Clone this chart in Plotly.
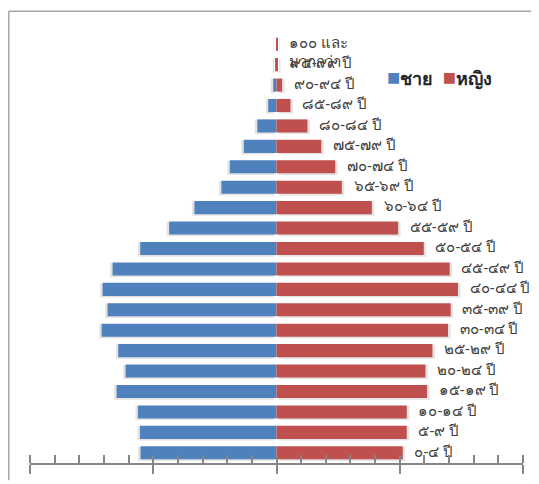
import plotly.graph_objects as go

age_groups = ["๐-๔ ปี", "๕-๙ ปี", "๑๐-๑๔ ปี", "๑๕-๑๙ ปี", "๒๐-๒๔ ปี", "๒๕-๒๙ ปี",
              "๓๐-๓๔ ปี", "๓๕-๓๙ ปี", "๔๐-๔๔ ปี", "๔๕-๔๙ ปี", "๕๐-๕๔ ปี", "๕๕-๕๙ ปี",
              "๖๐-๖๔ ปี", "๖๕-๖๙ ปี", "๗๐-๗๔ ปี", "๗๕-๗๙ ปี", "๘๐-๘๔ ปี", "๘๕-๘๙ ปี",
              "๙๐-๙๔ ปี", "๙๕-๙๙ ปี", "๑๐๐ และมากกว่า"]
# the same labels as drawn next to the bars (the last one wraps onto two lines)
age_labels = age_groups[:-1] + ["\u00a0<br>๑๐๐ และ<br>มากกว่า"]

# population in thousands
male = [2207, 2216, 2249, 2595, 2449, 2568, 2838, 2741, 2822, 2660, 2211, 1742,
        1332, 894, 758, 531, 311, 134, 53, 21, 8]
female = [2049, 2114, 2114, 2443, 2417, 2530, 2783, 2827, 2945, 2811, 2390, 1973,
          1547, 1061, 953, 726, 502, 227, 91, 24, 11]

series_names = ["ชาย", "หญิง"]
colors = ["#4F81BD", "#C0504D"]

FONT = "Tahoma, Leelawadee UI, Noto Sans, sans-serif"
SHADOW = "rgba(0,0,0,0.11)"
shift = 40  # small shadow displacement in data units

fig = go.Figure()
# soft drop shadows behind the bars
fig.add_trace(go.Bar(
    y=age_groups, x=[-v for v in male], base=-shift, orientation="h",
    width=0.7, offset=-0.4, marker=dict(color=SHADOW, line=dict(width=0)),
    showlegend=False, hoverinfo="skip"))
fig.add_trace(go.Bar(
    y=age_groups, x=female, base=shift, orientation="h",
    width=0.7, offset=-0.4, marker=dict(color=SHADOW, line=dict(width=0)),
    showlegend=False, hoverinfo="skip"))
# the bars
fig.add_trace(go.Bar(
    y=age_groups, x=[-v for v in male], orientation="h", name=series_names[0],
    marker=dict(color=colors[0], line=dict(width=0)), hoverinfo="skip",
    showlegend=False))
fig.add_trace(go.Bar(
    y=age_groups, x=female, orientation="h", name=series_names[1],
    marker=dict(color=colors[1], line=dict(width=0)), hoverinfo="skip",
    showlegend=False))
# category labels at the end of the female bars
fig.add_trace(go.Scatter(
    y=age_groups, x=female, mode="text",
    text=["\u00a0\u00a0\u00a0" + a.replace("<br>", "<br>\u00a0\u00a0\u00a0")
          for a in age_labels],
    textposition="middle right", textfont=dict(family=FONT, size=15, color="#404040"),
    showlegend=False, hoverinfo="skip", cliponaxis=False))

legend_text = (
    f"<span style='color:{colors[0]};font-size:22px'>■</span>"
    f"<b>{series_names[0]}</b>\u00a0\u00a0"
    f"<span style='color:{colors[1]};font-size:22px'>■</span>"
    f"<b>{series_names[1]}</b>"
)

fig.update_layout(
    width=531, height=476,
    margin=dict(l=22, r=16, t=26, b=15),
    paper_bgcolor="white", plot_bgcolor="white",
    barmode="overlay", bargap=0.36,
    font=dict(family=FONT, color="#404040"),
    showlegend=False,
    annotations=[dict(text=legend_text, xref="paper", yref="paper", x=0.72, y=0.902,
                      xanchor="left", yanchor="middle", showarrow=False,
                      font=dict(family=FONT, size=18, color="#262626"))],
    xaxis=dict(range=[-4000, 4000], dtick=2000, tick0=0, showticklabels=False,
               ticks="outside", ticklen=9, tickwidth=1.5, tickcolor="#868686",
               showline=True, linecolor="#868686", linewidth=1.5,
               showgrid=False, zeroline=False,
               minor=dict(dtick=400, tick0=0, ticks="inside", ticklen=8,
                          tickwidth=1.5, tickcolor="#868686", showgrid=False)),
    xaxis2=dict(range=[-4000, 4000], dtick=2000, tick0=0, showticklabels=False,
                overlaying="x", anchor="y", side="bottom",
                ticks="inside", ticklen=8, tickwidth=1.5, tickcolor="#868686",
                showline=False, showgrid=False, zeroline=False),
    yaxis=dict(showticklabels=False, ticks="", showline=False, showgrid=False,
               zeroline=False, range=[-0.5, 20.5]),
    shapes=[
        dict(type="line", xref="paper", yref="paper", x0=-0.043, x1=1.04,
             y0=1.053, y1=1.053, line=dict(color="#A6A6A6", width=1.5)),
        dict(type="line", xref="paper", yref="paper", x0=-0.043, x1=-0.043,
             y0=1.053, y1=-0.04, line=dict(color="#A6A6A6", width=1.5)),
    ],
)

fig.write_html("out.html")
